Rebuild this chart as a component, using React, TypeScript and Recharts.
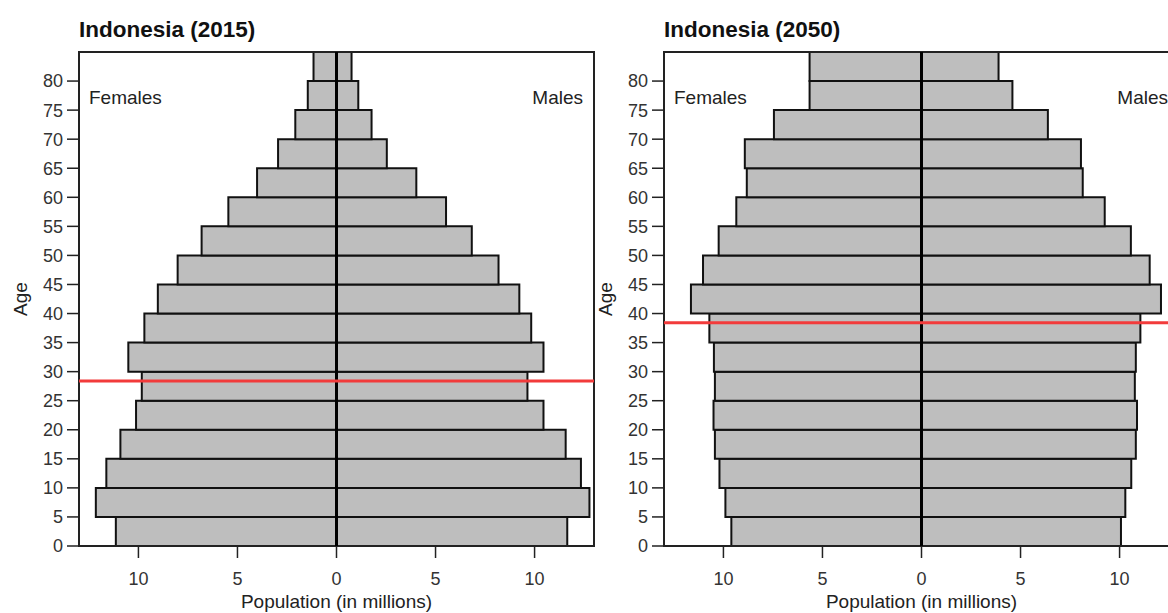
import { ComposedChart, ReferenceArea, ReferenceLine, XAxis, YAxis } from "recharts";

const ages = [0, 5, 10, 15, 20, 25, 30, 35, 40, 45, 50, 55, 60, 65, 70, 75, 80];
const female2015 = [11.14, 12.15, 11.62, 10.91, 10.12, 9.83, 10.51, 9.7, 9.02, 8.02, 6.81, 5.46, 4.01, 2.95, 2.08, 1.45, 1.16];
const male2015 = [11.65, 12.77, 12.34, 11.57, 10.45, 9.64, 10.45, 9.83, 9.23, 8.18, 6.83, 5.53, 4.03, 2.54, 1.77, 1.1, 0.76];
const female2050 = [9.6, 9.9, 10.2, 10.43, 10.5, 10.43, 10.48, 10.71, 11.64, 11.03, 10.24, 9.35, 8.82, 8.92, 7.45, 5.65, 5.65];
const male2050 = [10.07, 10.29, 10.59, 10.82, 10.88, 10.77, 10.82, 11.05, 12.09, 11.52, 10.57, 9.25, 8.14, 8.05, 6.38, 4.59, 3.89];
const xTicks = [-10, -5, 0, 5, 10];
const ageTicks = [0, 5, 10, 15, 20, 25, 30, 35, 40, 45, 50, 55, 60, 65, 70, 75, 80];
const groupWidth = 5;

const FONT = "'Liberation Sans', Arial, Helvetica, sans-serif";
const tickStyle = { fill: "#333", fontSize: 18, fontFamily: FONT };
const textStyle = { fontFamily: FONT, fontSize: 19, fill: "#222" };

function Pyramid({ title, female, male, median }: { title: string; female: number[]; male: number[]; median: number }) {
  const rows = ages.map((age, i) => ({ age, female: -female[i], male: male[i] }));
  return <div style={{ position: "relative", width: 600, height: 613 }}>
    <ComposedChart width={600} height={613} data={rows} margin={{ top: 52, right: 6, bottom: 0, left: 0 }}>
      <XAxis type="number" dataKey="male" domain={[-13, 13]} ticks={xTicks} allowDataOverflow height={67} axisLine={false}
        tickLine={{ stroke: "#222", strokeWidth: 1.5 }} tickSize={12} tickMargin={14} tick={tickStyle}
        tickFormatter={(v) => String(Math.abs(Number(v)))} interval={0} />
      <YAxis type="number" dataKey="age" domain={[0, 85]} ticks={ageTicks} allowDataOverflow interval={0} width={79} axisLine={false}
        tickLine={{ stroke: "#222", strokeWidth: 1.5 }} tickSize={12} tickMargin={4} tick={tickStyle} />
      {rows.map((r) => <ReferenceArea key={`f${r.age}`} x1={r.female} x2={0} y1={r.age} y2={r.age + groupWidth}
        fill="#bebebe" fillOpacity={1} stroke="#111" strokeWidth={2} ifOverflow="visible" />)}
      {rows.map((r) => <ReferenceArea key={`m${r.age}`} x1={0} x2={r.male} y1={r.age} y2={r.age + groupWidth}
        fill="#bebebe" fillOpacity={1} stroke="#111" strokeWidth={2} ifOverflow="visible" />)}
      <ReferenceLine x={0} stroke="#000" strokeWidth={3} />
      <ReferenceLine y={median} stroke="#f23b3b" strokeWidth={3} />
      <ReferenceArea x1={-13} x2={13} y1={0} y2={85} fill="none" fillOpacity={0} stroke="#222" strokeWidth={2} ifOverflow="visible" />
    </ComposedChart>
    <svg width={600} height={613} style={{ position: "absolute", left: 0, top: 0, pointerEvents: "none" }}>
      <text x={79} y={37} style={{ fontFamily: FONT, fontSize: 22.5, fontWeight: 700, fill: "#111" }}>{title}</text>
      <text x={89} y={104} style={textStyle}>Females</text>
      <text x={583} y={104} textAnchor="end" style={textStyle}>Males</text>
      <text transform="translate(27,299) rotate(-90)" textAnchor="middle" style={textStyle}>Age</text>
      <text x={336.5} y={608} textAnchor="middle" style={textStyle}>Population (in millions)</text>
    </svg>
  </div>;
}

export default function App() {
  return <div style={{ position: "fixed", left: 0, top: 0, width: 1168, height: 613, overflow: "hidden", background: "#fff" }}>
    <div style={{ position: "absolute", left: 0, top: 0 }}>
      <Pyramid title="Indonesia (2015)" female={female2015} male={male2015} median={28.4} />
    </div>
    <div style={{ position: "absolute", left: 585, top: 0 }}>
      <Pyramid title="Indonesia (2050)" female={female2050} male={male2050} median={38.4} />
    </div>
  </div>;
}
